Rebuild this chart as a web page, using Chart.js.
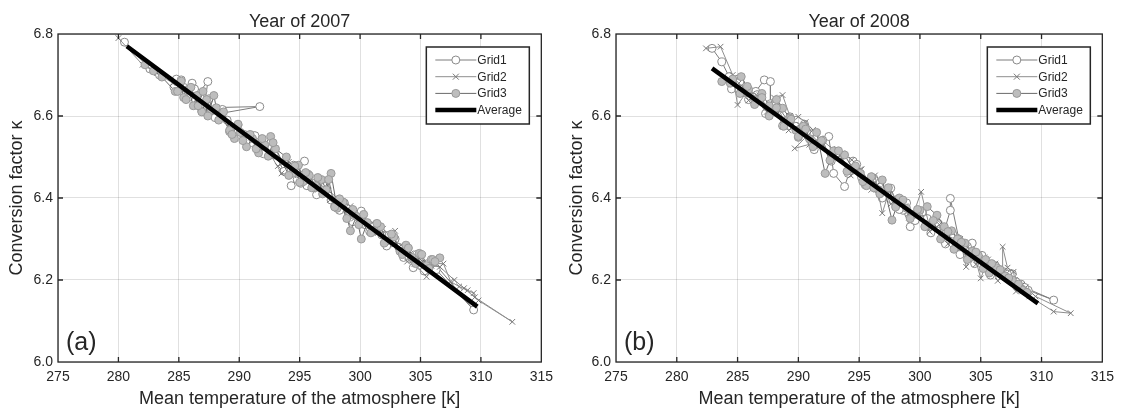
<!DOCTYPE html>
<html><head><meta charset="utf-8">
<script src="https://cdn.jsdelivr.net/npm/chart.js@4.4.0/dist/chart.umd.min.js"></script>
<style>
html,body{margin:0;padding:0;background:#fff;}
#wrap{position:relative;width:1121px;height:410px;overflow:hidden;background:#fff;}
#c1{position:absolute;left:0;top:0;}
#c2{position:absolute;left:560px;top:0;}
</style></head><body>
<div id="wrap"><canvas id="c1" width="560" height="410"></canvas><canvas id="c2" width="561" height="410"></canvas></div>
<script>
// ---------------- data: Year of 2007 ----------------
const g1x07 = [280.5,282.6,283.4,284.8,285.4,286.1,286.6,287.4,287.1,291.7,288.2,289.0,289.7,290.4,291.0,291.6,292.2,292.9,294.0,295.4,294.3,294.8,295.6,296.2,296.9,297.6,298.3,299.0,299.7,300.4,301.1,301.8,302.5,303.2,303.9,304.4,305.0,305.6,306.3,309.4,
  305.9,305.3,304.7,303.6,302.9,302.2,301.5,300.8,300.1,299.4,298.7,297.9,297.1,296.4,295.7,295.1,294.5,293.7,292.7,292.0,291.3,290.6,289.9,289.2,288.6,288.0,287.5,286.9,286.3,285.8,285.2,284.6];
const g1y07 = [6.780,6.715,6.700,6.690,6.670,6.680,6.655,6.684,6.620,6.623,6.605,6.590,6.565,6.555,6.535,6.530,6.515,6.505,6.470,6.490,6.430,6.445,6.430,6.425,6.415,6.395,6.370,6.365,6.350,6.335,6.320,6.310,6.290,6.280,6.260,6.230,6.235,6.240,6.225,6.127,
  6.250,6.222,6.262,6.255,6.300,6.283,6.330,6.318,6.368,6.342,6.388,6.380,6.428,6.408,6.458,6.436,6.480,6.465,6.522,6.508,6.552,6.538,6.578,6.562,6.616,6.596,6.642,6.612,6.666,6.645,6.688,6.670];
const g2x07 = [280.0,282.0,283.2,284.5,285.5,286.5,287.5,288.5,289.5,290.5,291.5,292.5,293.5,294.5,295.5,296.5,297.5,298.5,299.5,300.5,301.5,302.9,302.3,303.2,303.9,304.5,305.5,306.2,306.9,307.5,308.2,308.9,309.4,309.5,312.6,
  309.8,308.6,307.8,306.6,305.9,305.0,304.2,303.6,302.6,301.9,301.0,300.1,299.2,298.3,297.4,296.6,295.8,294.9,294.1,293.2];
const g2y07 = [6.790,6.725,6.705,6.680,6.665,6.640,6.625,6.600,6.575,6.555,6.535,6.510,6.460,6.455,6.440,6.420,6.395,6.375,6.350,6.335,6.315,6.320,6.300,6.280,6.245,6.240,6.208,6.240,6.240,6.196,6.184,6.175,6.168,6.158,6.098,
  6.150,6.180,6.200,6.232,6.235,6.250,6.265,6.280,6.302,6.325,6.340,6.355,6.380,6.395,6.418,6.435,6.452,6.470,6.488,6.478];
const g3x07 = [282.2,282.9,283.6,284.7,285.1,285.4,285.8,286.2,286.5,286.9,287.3,287.7,288.1,288.5,289.2,289.6,290.1,290.6,291.1,291.6,292.1,292.6,293.0,293.9,294.4,294.9,295.3,295.8,296.3,296.8,297.2,297.6,298.1,298.6,299.2,299.7,300.1,300.6,301.2,301.7,302.2,302.8,303.3,303.8,304.3,304.9,305.5,306.0,306.6,
  306.2,305.7,305.1,304.6,304.0,303.5,302.6,302.0,301.4,300.9,300.3,299.9,299.4,298.9,298.3,297.9,297.4,296.9,296.5,296.0,295.5,295.0,294.6,294.1,292.8,292.4,291.9,291.4,290.9,290.3,289.9,289.4,288.7,288.3,287.9,287.4,287.0,286.6,286.0,285.6,285.2,284.9];
const g3y07 = [6.725,6.710,6.695,6.660,6.680,6.645,6.665,6.625,6.650,6.610,6.640,6.615,6.620,6.600,6.565,6.545,6.560,6.525,6.545,6.510,6.530,6.550,6.520,6.500,6.460,6.480,6.440,6.455,6.430,6.445,6.420,6.460,6.375,6.390,6.320,6.355,6.300,6.340,6.320,6.330,6.295,6.305,6.270,6.285,6.255,6.265,6.235,6.250,6.254,
  6.245,6.228,6.262,6.240,6.278,6.262,6.312,6.290,6.338,6.315,6.360,6.335,6.372,6.350,6.398,6.378,6.445,6.410,6.450,6.425,6.462,6.438,6.478,6.455,6.535,6.502,6.545,6.520,6.555,6.540,6.580,6.555,6.610,6.590,6.650,6.600,6.660,6.625,6.670,6.640,6.685,6.660];
const avgx07 = [280.7,285,290,295,300,305,309.7];
const avgy07 = [6.770,6.676,6.566,6.457,6.347,6.238,6.135];

// ---------------- data: Year of 2008 ----------------
const g1x08 = [282.9,283.7,284.3,285.0,285.8,286.5,287.2,287.7,287.7,288.4,289.1,289.8,290.5,291.0,291.7,292.5,292.9,293.8,294.5,295.2,295.9,296.6,297.3,298.0,298.6,299.2,299.9,300.6,301.3,302.0,302.5,302.5,303.2,303.8,304.3,304.9,305.5,306.2,306.9,307.6,308.3,308.9,311.0,
  308.6,307.9,307.2,306.5,305.8,305.1,304.5,303.9,303.3,302.7,302.1,301.5,300.9,300.2,299.6,298.9,298.3,297.6,296.9,296.2,295.5,294.8,294.1,293.4,292.7,292.0,291.3,290.7,290.0,289.3,288.7,288.0,287.3,286.6,285.9,285.2,284.5];
const g1y08 = [6.765,6.732,6.696,6.690,6.655,6.660,6.688,6.684,6.630,6.620,6.590,6.575,6.580,6.557,6.534,6.550,6.460,6.428,6.490,6.450,6.440,6.420,6.410,6.395,6.370,6.330,6.360,6.350,6.340,6.320,6.370,6.399,6.300,6.270,6.290,6.250,6.240,6.235,6.220,6.215,6.190,6.175,6.151,
  6.182,6.196,6.214,6.226,6.212,6.260,6.240,6.282,6.262,6.312,6.288,6.338,6.315,6.366,6.345,6.388,6.372,6.424,6.400,6.448,6.432,6.482,6.460,6.506,6.490,6.541,6.518,6.562,6.548,6.598,6.576,6.628,6.606,6.652,6.640,6.684,6.666];
const g2x08 = [282.4,283.6,284.6,285.0,285.9,286.6,287.4,288.0,288.7,289.3,290.0,290.6,291.2,289.7,292.0,292.8,293.6,294.4,295.1,295.8,296.3,296.9,297.5,298.2,298.8,299.5,300.1,300.7,301.3,302.0,302.7,303.3,303.8,304.4,305.0,305.6,306.2,306.8,306.8,307.2,307.7,307.8,308.4,309.0,311.0,312.4,
  309.5,308.7,307.9,307.1,306.4,305.3,304.6,303.9,303.0,302.3,301.6,300.8,300.0,299.1,298.4,297.6,296.8,296.0,295.2,294.3,293.5,292.6,291.8,290.9,290.1,289.2,288.4,287.6,286.8,285.9,285.1];
const g2y08 = [6.765,6.769,6.700,6.627,6.665,6.650,6.610,6.645,6.651,6.600,6.598,6.585,6.566,6.521,6.540,6.520,6.509,6.493,6.470,6.440,6.455,6.363,6.420,6.391,6.380,6.365,6.415,6.340,6.350,6.330,6.315,6.300,6.232,6.270,6.204,6.250,6.240,6.220,6.281,6.230,6.220,6.200,6.188,6.160,6.123,6.119,
  6.160,6.182,6.172,6.215,6.198,6.255,6.238,6.280,6.305,6.288,6.335,6.318,6.372,6.352,6.398,6.385,6.440,6.420,6.470,6.455,6.505,6.490,6.545,6.530,6.578,6.565,6.615,6.600,6.650,6.638,6.680];
const g3x08 = [283.7,284.4,285.3,285.9,286.4,287.0,287.6,288.2,288.7,289.3,289.8,290.4,290.9,291.5,292.2,292.9,293.8,294.5,295.1,295.6,296.2,296.9,297.7,298.3,298.9,299.5,300.0,300.6,301.4,302.0,302.6,303.1,303.7,304.3,304.8,305.4,305.7,306.3,307.0,307.6,308.4,308.8,
  308.1,307.3,306.6,305.9,305.2,304.6,303.9,303.4,302.8,302.3,301.7,301.1,300.4,299.8,299.2,298.6,298.0,297.4,296.7,296.0,295.3,294.7,294.0,293.3,292.6,291.9,291.2,290.6,290.0,289.4,288.8,288.2,287.6,287.0,286.4,285.8,285.2,284.6];
const g3y08 = [6.684,6.680,6.696,6.665,6.640,6.655,6.625,6.640,6.619,6.595,6.565,6.575,6.545,6.560,6.460,6.515,6.505,6.470,6.460,6.430,6.425,6.444,6.346,6.400,6.375,6.360,6.370,6.379,6.358,6.330,6.320,6.300,6.290,6.270,6.260,6.250,6.217,6.230,6.210,6.200,6.176,6.170,
  6.190,6.205,6.225,6.240,6.228,6.268,6.250,6.292,6.275,6.318,6.300,6.345,6.330,6.372,6.350,6.395,6.378,6.425,6.410,6.452,6.440,6.478,6.465,6.515,6.492,6.540,6.525,6.568,6.550,6.592,6.575,6.620,6.600,6.645,6.628,6.672,6.655,6.690];
const avgx08 = [282.9,285,290,295,300,305,309.7];
const avgy08 = [6.716,6.671,6.564,6.457,6.350,6.243,6.143];

// ---------------- labels / ticks ----------------
const seriesNames = ['Grid1','Grid2','Grid3','Average'];
const panelTitles = ['Year of 2007','Year of 2008'];
const panelTags = ['(a)','(b)'];
const xTicks = [275,280,285,290,295,300,305,310,315];
const yTicks = [6.0,6.2,6.4,6.6,6.8];
const xTitle = 'Mean temperature of the atmosphere [k]';
const yTitle = 'Conversion factor \u03BA';

// ---------------- rendering ----------------
const FONT = '"Liberation Sans", Arial, Helvetica, sans-serif';
const INK = '#262626';
const pts = (xs, ys) => xs.map((x, i) => ({x: x, y: ys[i]}));

function drawMarker(ctx, style, x, y, r, fill, stroke, lw) {
  ctx.save();
  ctx.lineWidth = lw; ctx.strokeStyle = stroke; ctx.fillStyle = fill;
  ctx.beginPath();
  if (style === 'crossRot') {
    const d = r * 0.75;
    ctx.moveTo(x - d, y - d); ctx.lineTo(x + d, y + d);
    ctx.moveTo(x - d, y + d); ctx.lineTo(x + d, y - d);
    ctx.stroke();
  } else {
    ctx.arc(x, y, r, 0, Math.PI * 2);
    ctx.fill(); ctx.stroke();
  }
  ctx.restore();
}

const decor = {
  id: 'decor',
  afterDatasetsDraw(chart) {
    const ctx = chart.ctx, a = chart.chartArea;
    const cfg = chart.options.plugins.decor;
    const xs = chart.scales.x, ys = chart.scales.y;
    ctx.save();
    ctx.strokeStyle = INK; ctx.lineWidth = 1.3;
    ctx.strokeRect(a.left, a.top, a.right - a.left, a.bottom - a.top);
    ctx.beginPath();
    xTicks.forEach(v => {
      const p = xs.getPixelForValue(v);
      if (p <= a.left + 1 || p >= a.right - 1) return;
      ctx.moveTo(p, a.bottom); ctx.lineTo(p, a.bottom - 5);
      ctx.moveTo(p, a.top); ctx.lineTo(p, a.top + 5);
    });
    yTicks.forEach(v => {
      const p = ys.getPixelForValue(v);
      if (p <= a.top + 1 || p >= a.bottom - 1) return;
      ctx.moveTo(a.left, p); ctx.lineTo(a.left + 5, p);
      ctx.moveTo(a.right, p); ctx.lineTo(a.right - 5, p);
    });
    ctx.stroke();
    ctx.fillStyle = INK;
    ctx.font = '18px ' + FONT;
    ctx.textAlign = 'center'; ctx.textBaseline = 'alphabetic';
    ctx.fillText(cfg.title, (a.left + a.right) / 2, 27);
    ctx.font = '25px ' + FONT;
    ctx.textAlign = 'left';
    ctx.fillText(cfg.tag, a.left + 8, a.bottom - 12);
    const w = 103, h = 77;
    const bx = a.right - 12 - w, by = a.top + 13;
    ctx.fillStyle = '#ffffff';
    ctx.fillRect(bx, by, w, h);
    ctx.strokeStyle = INK; ctx.lineWidth = 1.5;
    ctx.strokeRect(bx, by, w, h);
    chart.data.datasets.forEach((ds, i) => {
      const cy = by + 13 + i * 16.7;
      const x0 = bx + 9, x1 = bx + 50;
      ctx.strokeStyle = ds.borderColor; ctx.lineWidth = ds.borderWidth;
      ctx.beginPath(); ctx.moveTo(x0, cy); ctx.lineTo(x1, cy); ctx.stroke();
      if (ds.pointRadius > 0) {
        drawMarker(ctx, ds.pointStyle, (x0 + x1) / 2, cy, ds.pointRadius,
          ds.pointBackgroundColor, ds.pointBorderColor, ds.pointBorderWidth);
      }
      ctx.fillStyle = INK;
      ctx.font = '12px ' + FONT;
      ctx.textAlign = 'left'; ctx.textBaseline = 'middle';
      ctx.fillText(ds.label, bx + 51, cy + 0.5);
    });
    ctx.restore();
  }
};

function makeChart(id, d, k, yWidth, padRight) {
  const datasets = [
    {label: seriesNames[0], data: pts(d.g1x, d.g1y), showLine: true, borderColor: '#7c7c7c', borderWidth: 1,
     pointStyle: 'circle', pointRadius: 4, pointBackgroundColor: '#ffffff', pointBorderColor: '#8a8a8a', pointBorderWidth: 1, order: 4},
    {label: seriesNames[1], data: pts(d.g2x, d.g2y), showLine: true, borderColor: '#8e8e8e', borderWidth: 1,
     pointStyle: 'crossRot', pointRadius: 4, pointBackgroundColor: '#808080', pointBorderColor: '#7a7a7a', pointBorderWidth: 1, order: 3},
    {label: seriesNames[2], data: pts(d.g3x, d.g3y), showLine: true, borderColor: '#6a6a6a', borderWidth: 1,
     pointStyle: 'circle', pointRadius: 4, pointBackgroundColor: '#bdbdbd', pointBorderColor: '#9a9a9a', pointBorderWidth: 1, order: 2},
    {label: seriesNames[3], data: pts(d.ax, d.ay), showLine: true, borderColor: '#000000', borderWidth: 4.5,
     borderCapStyle: 'butt', pointRadius: 0, order: 1}
  ];
  return new Chart(document.getElementById(id), {
    type: 'scatter',
    data: {datasets: datasets},
    options: {
      responsive: false, animation: false, devicePixelRatio: 1, events: [],
      layout: {padding: {top: 34, right: padRight, left: 0, bottom: 0}},
      plugins: {legend: {display: false}, tooltip: {enabled: false}, title: {display: false},
                decor: {title: panelTitles[k], tag: panelTags[k]}},
      scales: {
        x: {
          type: 'linear', min: 275, max: 315,
          afterBuildTicks: s => { s.ticks = xTicks.map(v => ({value: v})); },
          afterFit: s => { s.height = 48; },
          ticks: {color: INK, font: {family: FONT, size: 14}, padding: 7, maxRotation: 0, autoSkip: false,
                  callback: v => String(v)},
          grid: {color: 'rgba(0,0,0,0.12)', lineWidth: 1, drawTicks: false},
          border: {display: false},
          title: {display: true, text: xTitle, color: INK, font: {family: FONT, size: 18}, padding: {top: 0, bottom: 0}}
        },
        y: {
          type: 'linear', min: 6.0, max: 6.8,
          afterBuildTicks: s => { s.ticks = yTicks.map(v => ({value: v})); },
          afterFit: s => { s.width = yWidth; },
          ticks: {color: INK, font: {family: FONT, size: 14}, padding: 5, autoSkip: false,
                  callback: v => Number(v).toFixed(1)},
          grid: {color: 'rgba(0,0,0,0.12)', lineWidth: 1, drawTicks: false},
          border: {display: false},
          title: {display: true, text: yTitle, color: INK, font: {family: FONT, size: 18}, padding: {top: 6, bottom: 0}}
        }
      }
    },
    plugins: [decor]
  });
}

makeChart('c1', {g1x: g1x07, g1y: g1y07, g2x: g2x07, g2y: g2y07, g3x: g3x07, g3y: g3y07, ax: avgx07, ay: avgy07}, 0, 58, 14);
makeChart('c2', {g1x: g1x08, g1y: g1y08, g2x: g2x08, g2y: g2y08, g3x: g3x08, g3y: g3y08, ax: avgx08, ay: avgy08}, 1, 56, 18);
</script>
</body></html>
